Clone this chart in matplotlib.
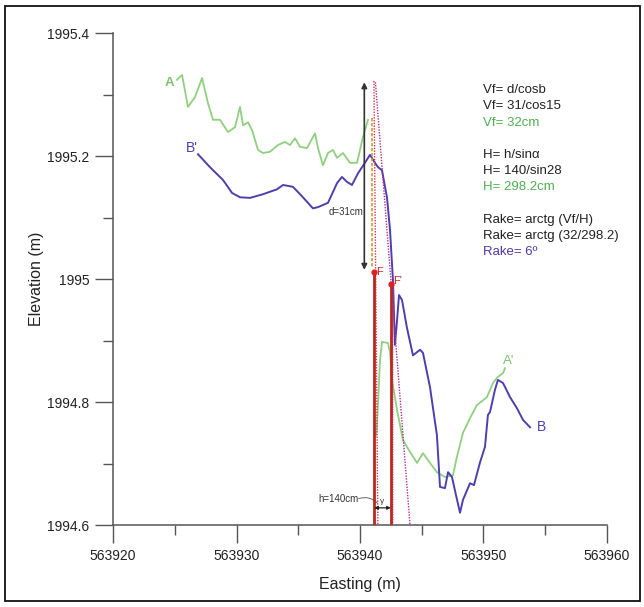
import matplotlib
matplotlib.use("Agg")
import matplotlib.pyplot as plt
from matplotlib.ticker import MultipleLocator, FuncFormatter
from matplotlib.patches import Rectangle

plt.rcParams['font.family'] = ['Liberation Sans', 'DejaVu Sans']

X0 = 563920.0

# Profile A-A' (green), west segment (hanging wall)
a1_x = [5.18, 5.59, 6.07, 6.64, 7.21, 7.69, 8.10, 8.66, 9.31, 9.88, 10.28, 10.53,
        10.93, 11.26, 11.74, 12.15, 12.71, 13.36, 13.93, 14.33, 14.74, 15.14, 15.71,
        16.36, 16.60, 17.00, 17.41, 17.81, 18.14, 18.62, 19.19, 19.76, 20.24, 20.65]
a1_y = [1995.324, 1995.332, 1995.280, 1995.296, 1995.327, 1995.286, 1995.259, 1995.259,
        1995.239, 1995.247, 1995.280, 1995.250, 1995.255, 1995.242, 1995.210, 1995.205,
        1995.207, 1995.218, 1995.223, 1995.218, 1995.229, 1995.215, 1995.213, 1995.237,
        1995.213, 1995.185, 1995.205, 1995.210, 1995.197, 1995.205, 1995.189, 1995.189,
        1995.231, 1995.259]
# Profile A-A' (green), east segment
a2_x = [21.30, 21.38, 21.62, 21.78, 22.27, 22.43, 22.59, 23.00, 23.48, 24.05, 24.62,
        25.10, 25.67, 26.23, 26.88, 27.53, 27.85, 28.34, 28.91, 29.47, 30.28, 30.77,
        31.17, 31.58, 31.74]
a2_y = [1994.746, 1994.763, 1994.868, 1994.898, 1994.896, 1994.881, 1994.836, 1994.787,
        1994.738, 1994.719, 1994.701, 1994.717, 1994.701, 1994.686, 1994.678, 1994.681,
        1994.711, 1994.750, 1994.774, 1994.795, 1994.808, 1994.831, 1994.841, 1994.847,
        1994.855]
# Profile B'-B (blue)
b_x = [6.88, 7.85, 8.91, 9.64, 10.28, 11.09, 12.15, 13.28, 13.77, 14.57, 15.38, 16.19,
       16.60, 17.41, 18.14, 18.54, 18.95, 19.35, 19.84, 20.40, 20.81, 21.21, 21.46, 21.78,
       22.19, 22.43, 22.67, 22.83, 23.00, 23.16, 23.40, 23.81, 24.29, 24.86, 25.10, 25.67,
       26.23, 26.48, 26.88, 27.13, 27.45, 27.77, 28.10, 28.34, 28.91, 29.23, 29.72, 30.12,
       30.36, 30.53, 30.93, 31.17, 31.58, 32.15, 32.71, 33.20, 33.77]
b_y = [1995.203, 1995.182, 1995.161, 1995.140, 1995.133, 1995.132, 1995.138, 1995.146,
       1995.153, 1995.150, 1995.133, 1995.115, 1995.117, 1995.124, 1995.156, 1995.166,
       1995.158, 1995.153, 1995.172, 1995.189, 1995.202, 1995.189, 1995.182, 1995.177,
       1995.132, 1995.080, 1994.998, 1994.893, 1994.933, 1994.974, 1994.966, 1994.920,
       1994.876, 1994.885, 1994.880, 1994.824, 1994.746, 1994.662, 1994.660, 1994.686,
       1994.678, 1994.649, 1994.620, 1994.641, 1994.668, 1994.665, 1994.702, 1994.727,
       1994.779, 1994.784, 1994.820, 1994.836, 1994.831, 1994.808, 1994.790, 1994.771,
       1994.759]

# Fault construction
arrow_x = 563940.35
arrow_y = [1995.015, 1995.320]
f_x, f_y = 563941.15, 1995.011
fp_x, fp_y = 563942.55, 1994.992
h_y = 1994.628

formula_lines = ["Vf= d/cosb", "Vf= 31/cos15", "Vf= 32cm", "",
                 "H= h/sin\u03b1", "H= 140/sin28", "H= 298.2cm", "",
                 "Rake= arctg (Vf/H)", "Rake= arctg (32/298.2)", "Rake= 6\u00ba"]
formula_colors = ["#222222", "#222222", "#4cb050", None,
                  "#222222", "#222222", "#4cb050", None,
                  "#222222", "#222222", "#4a3aa8"]

GREEN = "#8fd07f"
BLUE = "#4f3fae"
RED = "#b8281f"

fig = plt.figure(figsize=(6.44, 6.07), dpi=100)
fig.patch.set_facecolor("white")
fig.patches.append(Rectangle((0.007, 0.01), 0.987, 0.98, transform=fig.transFigure,
                             fill=False, edgecolor="#111111", linewidth=1.3))
ax = fig.add_axes([0.1755, 0.135, 0.767, 0.8105])
ax.set_facecolor("none")

ax.plot([X0 + v for v in a1_x], a1_y, color=GREEN, lw=1.3, zorder=3)
ax.plot([X0 + v for v in a2_x], a2_y, color=GREEN, lw=1.3, zorder=3)
ax.plot([X0 + v for v in b_x], b_y, color=BLUE, lw=1.4, zorder=4)

# fault lines
ax.plot([f_x, f_x], [1994.6, f_y], color=RED, lw=2.0, zorder=5)
ax.plot([fp_x, fp_x], [1994.6, fp_y], color=RED, lw=2.0, zorder=5)
ax.plot([f_x - 0.02, f_x + 0.3], [1995.322, 1994.6], color="#e0304a", lw=1.0,
        ls=(0, (1, 1)), zorder=4)
ax.plot([563941.25, 563944.05], [1995.320, 1994.6], color="#b0308a", lw=1.0,
        ls=(0, (1, 1)), zorder=4)
ax.plot([563940.95, 563940.95], [1995.262, 1995.02], color="#d09a30", lw=1.2,
        ls=(0, (2, 1)), zorder=4)
ax.plot([fp_x + 0.1, fp_x + 0.12], [fp_y, 1994.6], color="#e0509a", lw=0.9,
        ls=(0, (1, 1)), zorder=4)
ax.plot([f_x, fp_x], [f_y, fp_y], ls="none", marker="o", ms=3.5, color="#e02020", zorder=6)
ax.text(f_x + 0.15, f_y, "F", color="#d02020", fontsize=8, va="center", ha="left", zorder=6)
ax.text(fp_x + 0.15, fp_y + 0.005, "F'", color="#d02020", fontsize=8, va="center",
        ha="left", zorder=6)

# vertical offset arrow
ax.annotate("", xy=(arrow_x, arrow_y[1]), xytext=(arrow_x, arrow_y[0]),
            arrowprops=dict(arrowstyle="<|-|>", color="#333333", lw=1.2,
                            mutation_scale=8, shrinkA=0, shrinkB=0), zorder=5)
ax.text(arrow_x - 0.1, 1995.109, "d=31cm", fontsize=7, ha="right", va="center",
        color="#333333", zorder=6)

# horizontal offset h
ax.annotate("", xy=(fp_x - 0.05, h_y), xytext=(f_x, h_y),
            arrowprops=dict(arrowstyle="<|-|>", color="#222222", lw=0.9,
                            mutation_scale=5, shrinkA=0, shrinkB=0), zorder=6)
ax.text(563939.85, 1994.642, "h=140cm", fontsize=7, ha="right", va="center",
        color="#333333", zorder=6)
ax.annotate("", xy=(563941.4, 1994.636), xytext=(563939.9, 1994.643),
            arrowprops=dict(arrowstyle="-", color="#666666", lw=0.7,
                            connectionstyle="arc3,rad=-0.3", shrinkA=0, shrinkB=0))
ax.text(563941.75, 1994.638, "\u03b3", fontsize=6, ha="center", va="center", color="#333333")

# profile labels
ax.text(563924.6, 1995.319, "A", color="#7cc26a", fontsize=9.5, ha="center", va="center",
        fontweight="bold")
ax.text(563926.4, 1995.213, "B'", color=BLUE, fontsize=10, ha="center", va="center")
ax.text(563952.0, 1994.866, "A'", color="#7cc26a", fontsize=9.5, ha="center", va="center")
ax.text(563954.3, 1994.760, "B", color=BLUE, fontsize=10, ha="left", va="center")

# formula text block
y0 = 1995.307
dy = 0.0263
for i, (s, c) in enumerate(zip(formula_lines, formula_colors)):
    if s:
        ax.text(563950.0, y0 - i * dy, s, fontsize=9.5, color=c, ha="left", va="center")

ax.set_xlim(563920, 563960)
ax.set_ylim(1994.6, 1995.4)
ax.xaxis.set_major_locator(MultipleLocator(10))
ax.xaxis.set_minor_locator(MultipleLocator(5))
ax.yaxis.set_major_locator(MultipleLocator(0.2))
ax.yaxis.set_minor_locator(MultipleLocator(0.1))
ax.xaxis.set_major_formatter(FuncFormatter(lambda v, p: "%d" % round(v)))
ax.yaxis.set_major_formatter(FuncFormatter(lambda v, p: "%g" % round(v, 1)))
for s in ["top", "right"]:
    ax.spines[s].set_visible(False)
for s in ["left", "bottom"]:
    ax.spines[s].set_color("#555555")
    ax.spines[s].set_linewidth(1.1)
ax.tick_params(which="major", direction="out", length=13, width=1.0, color="#555555",
               labelsize=10, labelcolor="#222222", pad=4)
ax.tick_params(which="minor", direction="out", length=7, width=1.0, color="#555555")
ax.set_xlabel("Easting (m)", fontsize=11.5, color="#222222", labelpad=10)
ax.set_ylabel("Elevation (m)", fontsize=11.5, color="#222222", labelpad=2)

fig.savefig("out.png", dpi=100, facecolor=fig.get_facecolor())
